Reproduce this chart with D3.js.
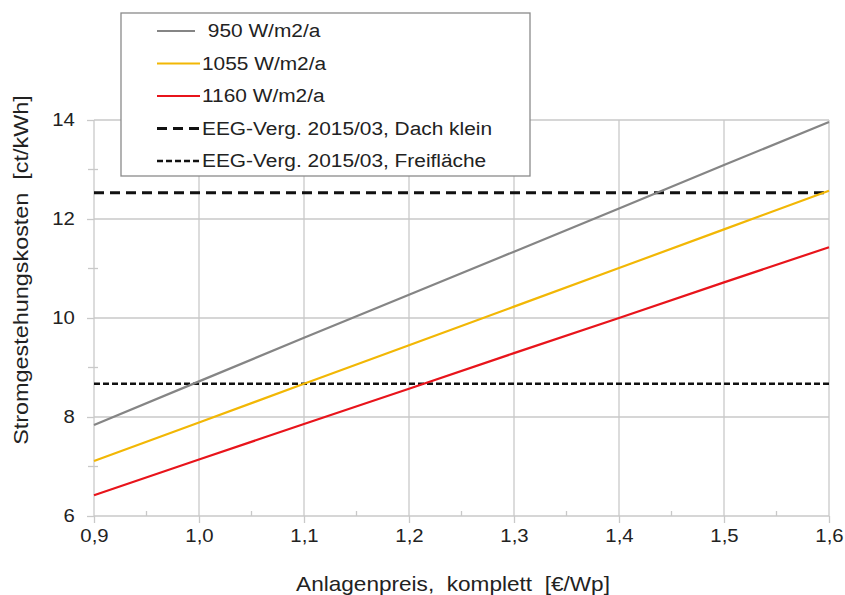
<!DOCTYPE html>
<html>
<head>
<meta charset="utf-8">
<script src="https://cdn.jsdelivr.net/npm/d3@7"></script>
<style>
  body { margin: 0; background: #fff; }
  text { font-family: "Liberation Sans", Arial, sans-serif; fill: #222; }
</style>
</head>
<body>
<svg></svg>
<script>
const width = 845;
const height = 595;

// Anlagenpreis [€/Wp]
const prices = [0.9, 1.0, 1.1, 1.2, 1.3, 1.4, 1.5, 1.6];
// Stromgestehungskosten [ct/kWh] per Einstrahlung
const cost950  = [7.84, 8.72, 9.60, 10.47, 11.34, 12.21, 13.09, 13.96];
const cost1055 = [7.11, 7.89, 8.67, 9.45, 10.23, 11.01, 11.79, 12.57];
const cost1160 = [6.42, 7.14, 7.86, 8.57, 9.29, 10.00, 10.72, 11.43];
const eegDachKlein = 12.53;
const eegFreiflaeche = 8.67;

const xTicks = [0.9, 1.0, 1.1, 1.2, 1.3, 1.4, 1.5, 1.6];
const xMinor = [0.95, 1.05, 1.15, 1.25, 1.35, 1.45, 1.55];
const yTicks = [6, 8, 10, 12, 14];
const yMinor = [7, 9, 11, 13];

const series = [
  {name: " 950 W/m2/a", values: cost950, color: "#858585"},
  {name: "1055 W/m2/a", values: cost1055, color: "#f2b705"},
  {name: "1160 W/m2/a", values: cost1160, color: "#e8141b"}
];

const svg = d3.select("svg")
  .attr("width", width)
  .attr("height", height);

const x = d3.scaleLinear().domain([0.9, 1.6]).range([94, 829]);
const y = d3.scaleLinear().domain([6, 14]).range([516, 120]);

const grid = "#c9c9c9";
const fmt = d => d3.format(".1f")(d).replace(".", ",");
// the source picture has slightly wide lettering
const stretch = 1.13;

// grid
svg.append("g")
  .selectAll("line")
  .data(xTicks)
  .enter().append("line")
  .attr("x1", d => x(d)).attr("x2", d => x(d))
  .attr("y1", y(14)).attr("y2", y(6))
  .attr("stroke", grid).attr("stroke-width", 1.3);

svg.append("g")
  .selectAll("line")
  .data(yTicks)
  .enter().append("line")
  .attr("x1", x(0.9)).attr("x2", x(1.6))
  .attr("y1", d => y(d)).attr("y2", d => y(d))
  .attr("stroke", grid).attr("stroke-width", 1.3);

// axes
const xAxis = svg.append("g")
  .attr("transform", `translate(0,${y(6)})`)
  .call(d3.axisBottom(x).tickValues(xTicks).tickFormat(fmt).tickSize(7).tickPadding(6));
xAxis.select(".domain").remove();
xAxis.selectAll("line").attr("stroke", grid).attr("stroke-width", 1.3);
xAxis.selectAll("text")
  .style("font-size", "18px").attr("fill", "#222")
  .attr("transform", `scale(${stretch},1)`);

const yAxis = svg.append("g")
  .attr("transform", `translate(${x(0.9)},0)`)
  .call(d3.axisLeft(y).tickValues(yTicks).tickSize(7).tickPadding(10));
yAxis.select(".domain").remove();
yAxis.selectAll("line").attr("stroke", grid).attr("stroke-width", 1.3);
yAxis.selectAll("text")
  .style("font-size", "18px").attr("fill", "#222")
  .attr("transform", `scale(${stretch},1)`);

// minor ticks
svg.append("g")
  .selectAll("line")
  .data(xMinor)
  .enter().append("line")
  .attr("x1", d => x(d)).attr("x2", d => x(d))
  .attr("y1", y(6) - 5).attr("y2", y(6))
  .attr("stroke", grid).attr("stroke-width", 1.3);

svg.append("g")
  .selectAll("line")
  .data(yMinor)
  .enter().append("line")
  .attr("x1", x(0.9) - 6).attr("x2", x(0.9) + 4)
  .attr("y1", d => y(d)).attr("y2", d => y(d))
  .attr("stroke", grid).attr("stroke-width", 1.3);

// EEG lines
svg.append("line")
  .attr("x1", x(0.9)).attr("x2", x(1.6))
  .attr("y1", y(eegDachKlein)).attr("y2", y(eegDachKlein))
  .attr("stroke", "#111").attr("stroke-width", 3)
  .attr("stroke-dasharray", "10,6");

svg.append("line")
  .attr("x1", x(0.9)).attr("x2", x(1.6))
  .attr("y1", y(eegFreiflaeche)).attr("y2", y(eegFreiflaeche))
  .attr("stroke", "#111").attr("stroke-width", 2.5)
  .attr("stroke-dasharray", "6,3");

// series lines
const line = d3.line()
  .x((d, i) => x(prices[i]))
  .y(d => y(d));

svg.append("g")
  .selectAll("path")
  .data(series)
  .enter().append("path")
  .attr("d", d => line(d.values))
  .attr("fill", "none")
  .attr("stroke", d => d.color)
  .attr("stroke-width", 2.2);

// axis titles
svg.append("text")
  .attr("transform", "translate(28,270) rotate(-90) scale(1.17,1)")
  .attr("text-anchor", "middle")
  .style("font-size", "20px")
  .style("white-space", "pre")
  .text("Stromgestehungskosten  [ct/kWh]");

svg.append("text")
  .attr("transform", `translate(453,591) scale(${stretch},1)`)
  .attr("text-anchor", "middle")
  .style("font-size", "20px")
  .style("white-space", "pre")
  .text("Anlagenpreis,  komplett  [€/Wp]");

// legend
const legend = svg.append("g");
legend.append("rect")
  .attr("x", 121).attr("y", 13)
  .attr("width", 409).attr("height", 163)
  .attr("fill", "#fff")
  .attr("stroke", "#8a8a8a").attr("stroke-width", 1.3);

const legendItems = [
  {name: series[0].name, color: series[0].color, width: 2.2, dash: null},
  {name: series[1].name, color: series[1].color, width: 2.2, dash: null},
  {name: series[2].name, color: series[2].color, width: 2.2, dash: null},
  {name: "EEG-Verg. 2015/03, Dach klein", color: "#111", width: 3, dash: "10,6"},
  {name: "EEG-Verg. 2015/03, Freifläche", color: "#111", width: 2.5, dash: "6,3"}
];

const rows = legend.selectAll("g.item")
  .data(legendItems)
  .enter().append("g")
  .attr("class", "item")
  .attr("transform", (d, i) => `translate(0,${31 + i * 32.5})`);

rows.append("line")
  .attr("x1", 157).attr("x2", (d, i) => i === 0 ? 195 : 200)
  .attr("y1", 0).attr("y2", 0)
  .attr("stroke", d => d.color)
  .attr("stroke-width", d => d.width)
  .attr("stroke-dasharray", d => d.dash);

rows.append("text")
  .attr("transform", "translate(202,6) scale(1.16,1)")
  .style("font-size", "18px")
  .style("white-space", "pre")
  .text(d => d.name);
</script>
</body>
</html>
